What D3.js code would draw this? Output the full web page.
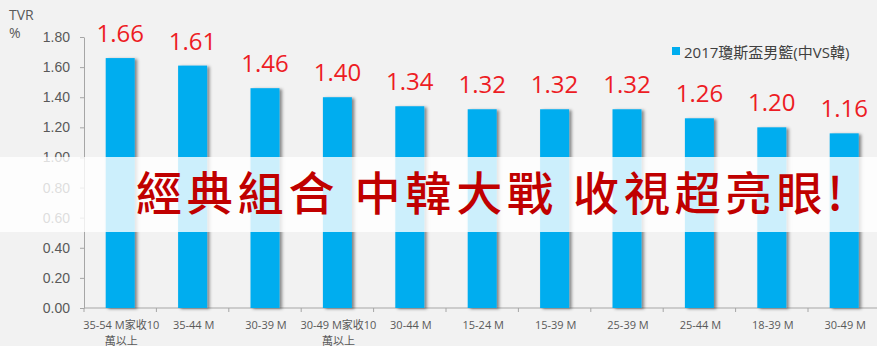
<!DOCTYPE html>
<html>
<head>
<meta charset="utf-8">
<script src="https://cdn.jsdelivr.net/npm/d3@7"></script>
<style>
  body { margin: 0; background: #f2f2f2; }
  svg { display: block; font-family: "Open Sans", "Noto Sans CJK TC", sans-serif; }
</style>
</head>
<body>
<div id="chart"></div>
<script>
var categories = ["35-54 M家收10\n萬以上", "35-44 M", "30-39 M", "30-49 M家收10\n萬以上", "30-44 M",
                  "15-24 M", "15-39 M", "25-39 M", "25-44 M", "18-39 M", "30-49 M"];
var values = [1.66, 1.61, 1.46, 1.40, 1.34, 1.32, 1.32, 1.32, 1.26, 1.20, 1.16];
var yTicks = [0, 0.2, 0.4, 0.6, 0.8, 1.0, 1.2, 1.4, 1.6, 1.8];
var seriesName = "2017瓊斯盃男籃(中VS韓)";
var headline = "經典組合 中韓大戰 收視超亮眼!";

var width = 877, height = 346;
var margin = {top: 37, left: 84, bottom: 38};
var band = 72.4;

var svg = d3.select("#chart")
  .append("svg")
    .attr("width", width)
    .attr("height", height);

svg.append("rect").attr("width", width).attr("height", height).attr("fill", "#f2f2f2");

var defs = svg.append("defs");
var f = defs.append("filter").attr("id", "shadow")
  .attr("x", "-20%").attr("y", "-5%").attr("width", "150%").attr("height", "110%");
f.append("feDropShadow").attr("dx", 2.5).attr("dy", 1).attr("stdDeviation", 1.5)
  .attr("flood-color", "#000").attr("flood-opacity", 0.45);

var x = d3.scaleBand()
  .domain(categories)
  .range([margin.left, margin.left + band * categories.length])
  .padding(0);

var y = d3.scaleLinear()
  .domain([0, 1.8])
  .range([height - margin.bottom, margin.top]);

// y axis
var yAxis = svg.append("g")
  .attr("transform", "translate(" + margin.left + ",0)")
  .call(d3.axisLeft(y).tickValues(yTicks).tickFormat(d3.format(".2f")).tickSize(4).tickSizeOuter(0));
yAxis.select(".domain").attr("stroke", "#a6a6a6");
yAxis.selectAll(".tick line").attr("stroke", "#a6a6a6");
yAxis.selectAll(".tick text")
  .attr("x", -14)
  .attr("fill", "#595959")
  .style("font-size", "14px");

// x axis line and ticks at category boundaries
var xa = svg.append("g");
xa.append("line")
  .attr("x1", margin.left).attr("x2", x.range()[1])
  .attr("y1", y(0)).attr("y2", y(0))
  .attr("stroke", "#a6a6a6");
xa.selectAll(".xt")
  .data(categories)
  .enter()
  .append("line")
    .attr("x1", function(d) { return x(d); })
    .attr("x2", function(d) { return x(d); })
    .attr("y1", y(0)).attr("y2", y(0) + 4)
    .attr("stroke", "#a6a6a6");

var lbl = xa.selectAll(".xl")
  .data(categories)
  .enter()
  .append("text")
    .attr("text-anchor", "middle")
    .attr("fill", "#595959")
    .style("font-size", "11px")
    .attr("transform", function(d) { return "translate(" + (x(d) + band / 2 + 1) + "," + (y(0) + 21) + ")"; });
lbl.selectAll("tspan")
  .data(function(d) { return d.split("\n"); })
  .enter()
  .append("tspan")
    .attr("x", 0)
    .attr("y", function(d, i) { return i * 15.5; })
    .text(function(d) { return d; });

// bars
svg.selectAll(".bar")
  .data(values)
  .enter()
  .append("rect")
    .attr("x", function(d, i) { return x(categories[i]) + band / 2 - 14 - 0.5; })
    .attr("width", 29)
    .attr("y", function(d) { return y(d); })
    .attr("height", function(d) { return y(0) - y(d); })
    .attr("fill", "#00adef")
    .attr("filter", "url(#shadow)");

// value labels
svg.selectAll(".val")
  .data(values)
  .enter()
  .append("text")
    .attr("x", function(d, i) { return x(categories[i]) + band / 2; })
    .attr("y", function(d) { return y(d) - 16; })
    .attr("text-anchor", "middle")
    .attr("fill", "#ed1c24")
    .style("font-size", "24px")
    .text(function(d) { return d.toFixed(2); });

// axis title
svg.append("text").attr("x", 9).attr("y", 20).attr("fill", "#595959").style("font-size", "14px").text("TVR");
svg.append("text").attr("x", 9).attr("y", 38).attr("fill", "#595959").style("font-size", "14px").text("%");

// legend
svg.append("rect").attr("x", 672).attr("y", 47).attr("width", 8).attr("height", 8).attr("fill", "#00adef");
svg.append("text").attr("x", 684).attr("y", 58).attr("fill", "#404040")
  .style("font-size", "15px").text(seriesName);

// white overlay band with headline
svg.append("rect")
  .attr("x", 0).attr("y", 157).attr("width", width).attr("height", 75)
  .attr("fill", "#fff").attr("opacity", 0.8);
svg.append("text")
  .attr("x", 136).attr("y", 210)
  .attr("fill", "#c00000")
  .attr("textLength", 707)
  .attr("lengthAdjust", "spacing")
  .style("font-family", "'Noto Sans CJK TC', sans-serif")
  .style("font-weight", 500)
  .style("font-size", "46px")
  .text(headline);
</script>
</body>
</html>
